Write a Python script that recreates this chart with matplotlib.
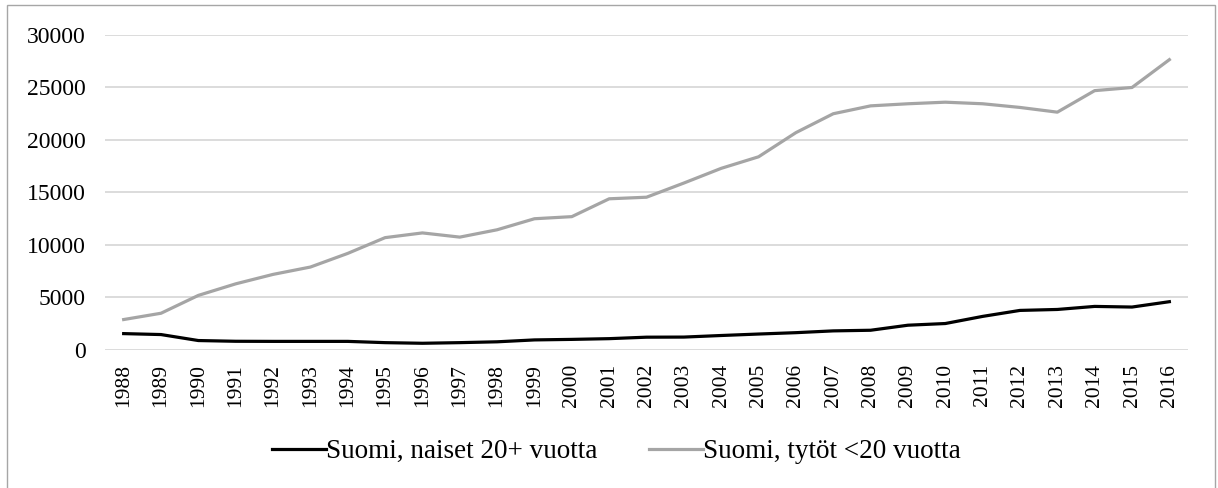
import numpy as np
import matplotlib
matplotlib.use("Agg")
import matplotlib.pyplot as plt
from matplotlib.patches import Rectangle

years = [str(y) for y in range(1988, 2017)]

# Suomi, naiset 20+ vuotta
naiset = [1560, 1470, 900, 830, 820, 820, 820, 700, 640, 700, 780, 960, 1010, 1080,
          1220, 1230, 1380, 1520, 1650, 1820, 1880, 2360, 2520, 3200, 3770, 3860,
          4150, 4090, 4600]
# Suomi, tytöt <20 vuotta
tytot = [2900, 3500, 5200, 6300, 7200, 7900, 9200, 10700, 11150, 10750, 11450, 12500,
         12700, 14400, 14550, 15900, 17300, 18400, 20700, 22500, 23250, 23450, 23600,
         23450, 23100, 22650, 24700, 25000, 27650]

labels = ["Suomi, naiset 20+ vuotta", "Suomi, tytöt <20 vuotta"]
yticks = [0, 5000, 10000, 15000, 20000, 25000, 30000]

plt.rcParams['font.family'] = ['Liberation Serif', 'DejaVu Serif']

fig = plt.figure(figsize=(12.18, 4.88), dpi=100)
ax = fig.add_axes([0.0862, 0.2828, 0.8892, 0.6455])

x = np.arange(len(years))
ax.plot(x, naiset, color='black', lw=2.3, solid_joinstyle='round', label=labels[0], zorder=3)
ax.plot(x, tytot, color='#a5a5a5', lw=2.3, solid_joinstyle='round', label=labels[1], zorder=3)

ax.set_xlim(-0.5, len(years) - 0.5)
ax.set_ylim(0, 30000)
ax.set_yticks(yticks)
ax.set_yticklabels([str(v) for v in yticks])
ax.set_xticks(x)
ax.set_xticklabels(years, rotation=90)
ax.tick_params(axis='y', length=0, pad=14, labelsize=17)
ax.tick_params(axis='x', length=0, pad=10, labelsize=15.5)
ax.grid(axis='y', color='#d9d9d9', lw=1.3)
ax.set_axisbelow(True)
for s in ax.spines.values():
    s.set_visible(False)

# outer frame (bottom edge falls outside the image)
fig.patches.append(Rectangle((7 / 1218, -2 / 488), 1208 / 1218, 485 / 488,
                             transform=fig.transFigure, fill=False,
                             edgecolor='#a6a6a6', lw=1.0))

fig.legend(loc='center', bbox_to_anchor=(0.506, 0.074), ncol=2, frameon=False,
           fontsize=19.5, handlelength=2.0, handletextpad=0.0, columnspacing=1.9)

fig.savefig('out.png', dpi=100)
